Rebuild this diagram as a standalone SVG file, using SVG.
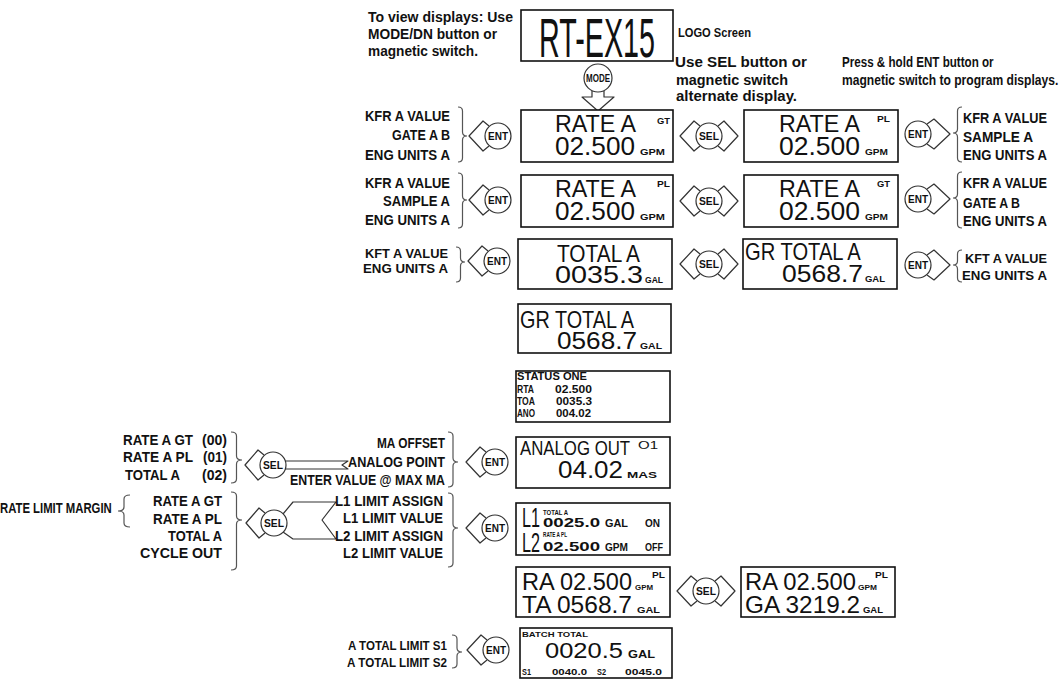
<svg xmlns="http://www.w3.org/2000/svg" width="1062" height="681" viewBox="0 0 1062 681">
<style>
.box{fill:#fff;stroke:#111;stroke-width:1.6}
.ln{fill:none;stroke:#333;stroke-width:1.2;stroke-linejoin:round}
.br{fill:none;stroke:#555;stroke-width:1.2}
.cir{fill:#fff;stroke:#333;stroke-width:1.2}
text{font-family:"Liberation Sans",Arial,sans-serif;fill:#111}
.lbl{font-weight:bold;font-size:14px}
.lb2{font-weight:bold;font-size:13px}
.big{font-size:24px}
.sm{font-weight:bold;font-size:9px}
.tiny{font-weight:bold;font-size:8px}
.btn{font-weight:bold;font-size:10px}
.st{font-weight:bold;font-size:10px}
</style>
<rect width="1062" height="681" fill="#fff"/>

<g id="notes">
<text class="lbl" x="368" y="22" textLength="145" lengthAdjust="spacingAndGlyphs">To view displays: Use</text>
<text class="lbl" x="368" y="39" textLength="129" lengthAdjust="spacingAndGlyphs">MODE/DN button or</text>
<text class="lbl" x="368" y="56" textLength="110" lengthAdjust="spacingAndGlyphs">magnetic switch.</text>
<text class="lb2" x="678" y="37" textLength="73" lengthAdjust="spacingAndGlyphs">LOGO Screen</text>
<text class="lbl" x="675" y="67" textLength="132" lengthAdjust="spacingAndGlyphs">Use SEL button or</text>
<text class="lbl" x="676" y="85" textLength="112" lengthAdjust="spacingAndGlyphs">magnetic switch</text>
<text class="lbl" x="676" y="101" textLength="121" lengthAdjust="spacingAndGlyphs">alternate display.</text>
<text class="lbl" transform="translate(842,67) scale(0.83,1)">Press &amp; hold ENT button or</text>
<text class="lbl" transform="translate(842,85) scale(0.864,1)">magnetic switch to program displays.</text>
</g>

<g id="logo">
<rect class="box" x="521" y="10" width="152" height="51"/>
<text font-size="56" transform="translate(539,57) scale(0.513,1)">RT-EX15</text>
</g>

<g id="connectors">
<path class="ln" d="M592,91 L592,97 L582,97 L598,111 L614,97 L604,97 L604,91"/>
<circle class="cir" cx="598" cy="78" r="14"/>
<text class="btn" x="586" y="82" textLength="24" lengthAdjust="spacingAndGlyphs">MODE</text>

<path class="ln" d="M700,126 L694,121 L680,136 L694,151 L700,146 M718,126 L724,121 L738,136 L724,151 L718,146"/>
<circle class="cir" cx="709" cy="136" r="13"/>
<text class="btn" x="699" y="140" textLength="20" lengthAdjust="spacingAndGlyphs">SEL</text>
<path class="ln" d="M700,191 L694,186 L680,201 L694,216 L700,211 M718,191 L724,186 L738,201 L724,216 L718,211"/>
<circle class="cir" cx="709" cy="201" r="13"/>
<text class="btn" x="699" y="205" textLength="20" lengthAdjust="spacingAndGlyphs">SEL</text>
<path class="ln" d="M700,254 L694,249 L680,264 L694,279 L700,274 M718,254 L724,249 L738,264 L724,279 L718,274"/>
<circle class="cir" cx="709" cy="264" r="13"/>
<text class="btn" x="699" y="268" textLength="20" lengthAdjust="spacingAndGlyphs">SEL</text>
<path class="ln" d="M697,581 L691,576 L677,591 L691,606 L697,601 M715,581 L721,576 L735,591 L721,606 L715,601"/>
<circle class="cir" cx="706" cy="591" r="13"/>
<text class="btn" x="696" y="595" textLength="20" lengthAdjust="spacingAndGlyphs">SEL</text>

<path class="ln" d="M489,126 L483,121 L469,136 L483,151 L489,146"/>
<circle class="cir" cx="498" cy="136" r="13"/>
<text class="btn" x="488" y="140" textLength="20" lengthAdjust="spacingAndGlyphs">ENT</text>
<path class="ln" d="M489,190 L483,185 L469,200 L483,215 L489,210"/>
<circle class="cir" cx="498" cy="200" r="13"/>
<text class="btn" x="488" y="204" textLength="20" lengthAdjust="spacingAndGlyphs">ENT</text>
<path class="ln" d="M488,251 L482,246 L468,261 L482,276 L488,271"/>
<circle class="cir" cx="497" cy="261" r="13"/>
<text class="btn" x="487" y="265" textLength="20" lengthAdjust="spacingAndGlyphs">ENT</text>
<path class="ln" d="M486,452 L480,447 L466,462 L480,477 L486,472"/>
<circle class="cir" cx="495" cy="462" r="13"/>
<text class="btn" x="485" y="466" textLength="20" lengthAdjust="spacingAndGlyphs">ENT</text>
<path class="ln" d="M486,518 L480,513 L466,528 L480,543 L486,538"/>
<circle class="cir" cx="495" cy="528" r="13"/>
<text class="btn" x="485" y="532" textLength="20" lengthAdjust="spacingAndGlyphs">ENT</text>
<path class="ln" d="M487,640 L481,635 L467,650 L481,665 L487,660"/>
<circle class="cir" cx="496" cy="650" r="13"/>
<text class="btn" x="486" y="654" textLength="20" lengthAdjust="spacingAndGlyphs">ENT</text>

<path class="ln" d="M927,124 L934,119 L950,134 L934,149 L927,144"/>
<circle class="cir" cx="918" cy="134" r="13"/>
<text class="btn" x="908" y="138" textLength="20" lengthAdjust="spacingAndGlyphs">ENT</text>
<path class="ln" d="M927,189 L934,184 L950,199 L934,214 L927,209"/>
<circle class="cir" cx="918" cy="199" r="13"/>
<text class="btn" x="908" y="203" textLength="20" lengthAdjust="spacingAndGlyphs">ENT</text>
<path class="ln" d="M927,255 L934,250 L950,265 L934,280 L927,275"/>
<circle class="cir" cx="918" cy="265" r="13"/>
<text class="btn" x="908" y="269" textLength="20" lengthAdjust="spacingAndGlyphs">ENT</text>

<path class="ln" d="M264,455 L258,450 L245,465 L258,480 L264,475 M285,461 L348,461 L342,465 L348,469 L285,469"/>
<circle class="cir" cx="273" cy="465" r="13"/>
<text class="btn" x="263" y="469" textLength="20" lengthAdjust="spacingAndGlyphs">SEL</text>
<path class="ln" d="M265,513 L259,508 L246,523 L259,538 L265,533 M283,514 L293,502 L336,502 L322,520 L336,539 L293,539 L283,532"/>
<circle class="cir" cx="274" cy="523" r="13"/>
<text class="btn" x="264" y="527" textLength="20" lengthAdjust="spacingAndGlyphs">SEL</text>

<path class="br" d="M458,107 Q462.5,107 462.5,111 L462.5,132 Q462.5,136 467,136 Q462.5,136 462.5,140 L462.5,158 Q462.5,162 458,162"/>
<path class="br" d="M458,173 Q462.5,173 462.5,177 L462.5,196 Q462.5,200 467,200 Q462.5,200 462.5,204 L462.5,224 Q462.5,228 458,228"/>
<path class="br" d="M456,247 Q460.5,247 460.5,251 L460.5,258 Q460.5,262 465,262 Q460.5,262 460.5,266 L460.5,278 Q460.5,282 456,282"/>
<path class="br" d="M962,107 Q957.5,107 957.5,111 L957.5,129 Q957.5,133 953,133 Q957.5,133 957.5,137 L957.5,158 Q957.5,162 962,162"/>
<path class="br" d="M962,172 Q957.5,172 957.5,176 L957.5,194 Q957.5,198 953,198 Q957.5,198 957.5,202 L957.5,224 Q957.5,228 962,228"/>
<path class="br" d="M962,250 Q957.5,250 957.5,254 L957.5,261 Q957.5,265 953,265 Q957.5,265 957.5,269 L957.5,278 Q957.5,282 962,282"/>
<path class="br" d="M448,432 Q453,432 453,436 L453,458 Q453,462 458,462 Q453,462 453,466 L453,483 Q453,487 448,487"/>
<path class="br" d="M448,493 Q453,493 453,497 L453,524 Q453,528 458,528 Q453,528 453,532 L453,563 Q453,567 448,567"/>
<path class="br" d="M452,635 Q457,635 457,639 L457,648 Q457,652 462,652 Q457,652 457,656 L457,664 Q457,668 452,668"/>
<path class="br" d="M231,432 Q236.5,432 236.5,436 L236.5,456 Q236.5,460 242,460 Q236.5,460 236.5,464 L236.5,479 Q236.5,483 231,483"/>
<path class="br" d="M231,492 Q236.5,492 236.5,496 L236.5,516 Q236.5,520 242,520 Q236.5,520 236.5,524 L236.5,566 Q236.5,570 231,570"/>
<path class="br" d="M130,495 Q124,495 124,499 L124,507 Q124,511 118,511 Q124,511 124,515 L124,523 Q124,527 130,527"/>
</g>

<g id="labels-left">
<text class="lbl" x="450" y="121" text-anchor="end" textLength="85" lengthAdjust="spacingAndGlyphs">KFR A VALUE</text>
<text class="lbl" x="450" y="140" text-anchor="end" textLength="58" lengthAdjust="spacingAndGlyphs">GATE A B</text>
<text class="lbl" x="450" y="160" text-anchor="end" textLength="85" lengthAdjust="spacingAndGlyphs">ENG UNITS A</text>
<text class="lbl" x="450" y="188" text-anchor="end" textLength="85" lengthAdjust="spacingAndGlyphs">KFR A VALUE</text>
<text class="lbl" x="450" y="206" text-anchor="end" textLength="67" lengthAdjust="spacingAndGlyphs">SAMPLE A</text>
<text class="lbl" x="450" y="225" text-anchor="end" textLength="85" lengthAdjust="spacingAndGlyphs">ENG UNITS A</text>
<text class="lb2" x="448" y="258" text-anchor="end" textLength="83" lengthAdjust="spacingAndGlyphs">KFT A VALUE</text>
<text class="lb2" x="448" y="273" text-anchor="end" textLength="85" lengthAdjust="spacingAndGlyphs">ENG UNITS A</text>
</g>

<g id="labels-right">
<text class="lbl" x="963" y="123" textLength="84" lengthAdjust="spacingAndGlyphs">KFR A VALUE</text>
<text class="lbl" x="963" y="142" textLength="70" lengthAdjust="spacingAndGlyphs">SAMPLE A</text>
<text class="lbl" x="963" y="160" textLength="84" lengthAdjust="spacingAndGlyphs">ENG UNITS A</text>
<text class="lbl" x="963" y="188" textLength="84" lengthAdjust="spacingAndGlyphs">KFR A VALUE</text>
<text class="lbl" x="963" y="208" textLength="57" lengthAdjust="spacingAndGlyphs">GATE A B</text>
<text class="lbl" x="963" y="226" textLength="84" lengthAdjust="spacingAndGlyphs">ENG UNITS A</text>
<text class="lb2" x="965" y="263" textLength="82" lengthAdjust="spacingAndGlyphs">KFT A VALUE</text>
<text class="lb2" x="962" y="280" textLength="85" lengthAdjust="spacingAndGlyphs">ENG UNITS A</text>
</g>

<g id="labels-analog">
<text class="lbl" x="445" y="448" text-anchor="end" textLength="68" lengthAdjust="spacingAndGlyphs">MA OFFSET</text>
<text class="lbl" x="445" y="467" text-anchor="end" textLength="97" lengthAdjust="spacingAndGlyphs">ANALOG POINT</text>
<text class="lbl" x="445" y="485" text-anchor="end" textLength="155" lengthAdjust="spacingAndGlyphs">ENTER VALUE @ MAX MA</text>
<text class="lbl" x="123" y="445" textLength="70" lengthAdjust="spacingAndGlyphs">RATE A GT</text>
<text class="lbl" x="202" y="445" textLength="25" lengthAdjust="spacingAndGlyphs">(00)</text>
<text class="lbl" x="123" y="462" textLength="70" lengthAdjust="spacingAndGlyphs">RATE A PL</text>
<text class="lbl" x="203" y="462" textLength="24" lengthAdjust="spacingAndGlyphs">(01)</text>
<text class="lbl" x="125" y="480" textLength="55" lengthAdjust="spacingAndGlyphs">TOTAL A</text>
<text class="lbl" x="202" y="480" textLength="25" lengthAdjust="spacingAndGlyphs">(02)</text>
</g>

<g id="labels-limit">
<text class="lbl" x="443" y="506" text-anchor="end" textLength="108" lengthAdjust="spacingAndGlyphs">L1 LIMIT ASSIGN</text>
<text class="lbl" x="443" y="523" text-anchor="end" textLength="100" lengthAdjust="spacingAndGlyphs">L1 LIMIT VALUE</text>
<text class="lbl" x="443" y="541" text-anchor="end" textLength="108" lengthAdjust="spacingAndGlyphs">L2 LIMIT ASSIGN</text>
<text class="lbl" x="443" y="558" text-anchor="end" textLength="100" lengthAdjust="spacingAndGlyphs">L2 LIMIT VALUE</text>
<text class="lbl" transform="translate(0,513) scale(0.81,1)">RATE LIMIT MARGIN</text>
<text class="lbl" x="222" y="506" text-anchor="end" textLength="69" lengthAdjust="spacingAndGlyphs">RATE A GT</text>
<text class="lbl" x="222" y="524" text-anchor="end" textLength="69" lengthAdjust="spacingAndGlyphs">RATE A PL</text>
<text class="lbl" x="222" y="541" text-anchor="end" textLength="54" lengthAdjust="spacingAndGlyphs">TOTAL A</text>
<text class="lbl" x="222" y="558" text-anchor="end" textLength="82" lengthAdjust="spacingAndGlyphs">CYCLE OUT</text>
</g>

<g id="labels-batch">
<text class="lb2" x="447" y="650" text-anchor="end" textLength="99" lengthAdjust="spacingAndGlyphs">A TOTAL LIMIT S1</text>
<text class="lb2" x="447" y="667" text-anchor="end" textLength="100" lengthAdjust="spacingAndGlyphs">A TOTAL LIMIT S2</text>
</g>

<g id="rate-gt">
<rect class="box" x="521" y="110" width="152" height="52"/>
<text class="big" x="555" y="132" textLength="81" lengthAdjust="spacingAndGlyphs">RATE A</text>
<text x="555" y="155" font-size="25" textLength="80" lengthAdjust="spacingAndGlyphs">02.500</text>
<text class="sm" x="640" y="155" textLength="25" lengthAdjust="spacingAndGlyphs">GPM</text>
<text class="sm" x="657" y="124" textLength="13" lengthAdjust="spacingAndGlyphs">GT</text>
</g>

<g id="rate-pl-alt">
<rect class="box" x="744" y="110" width="154" height="52"/>
<text class="big" x="779" y="132" textLength="81" lengthAdjust="spacingAndGlyphs">RATE A</text>
<text x="779" y="155" font-size="25" textLength="81" lengthAdjust="spacingAndGlyphs">02.500</text>
<text class="sm" x="865" y="155" textLength="23" lengthAdjust="spacingAndGlyphs">GPM</text>
<text class="sm" x="877" y="122" textLength="13" lengthAdjust="spacingAndGlyphs">PL</text>
</g>

<g id="rate-pl">
<rect class="box" x="521" y="175" width="152" height="52"/>
<text class="big" x="555" y="197" textLength="81" lengthAdjust="spacingAndGlyphs">RATE A</text>
<text x="555" y="220" font-size="25" textLength="80" lengthAdjust="spacingAndGlyphs">02.500</text>
<text class="sm" x="640" y="220" textLength="25" lengthAdjust="spacingAndGlyphs">GPM</text>
<text class="sm" x="657" y="187" textLength="13" lengthAdjust="spacingAndGlyphs">PL</text>
</g>

<g id="rate-gt-alt">
<rect class="box" x="744" y="175" width="154" height="52"/>
<text class="big" x="779" y="197" textLength="81" lengthAdjust="spacingAndGlyphs">RATE A</text>
<text x="779" y="220" font-size="25" textLength="81" lengthAdjust="spacingAndGlyphs">02.500</text>
<text class="sm" x="865" y="220" textLength="23" lengthAdjust="spacingAndGlyphs">GPM</text>
<text class="sm" x="877" y="187" textLength="13" lengthAdjust="spacingAndGlyphs">GT</text>
</g>

<g id="total-a">
<rect class="box" x="518" y="239" width="154" height="50"/>
<text class="big" x="557" y="262" textLength="83" lengthAdjust="spacingAndGlyphs">TOTAL A</text>
<text x="555" y="283" font-size="23" textLength="88" lengthAdjust="spacingAndGlyphs">0035.3</text>
<text class="sm" x="645" y="283" textLength="18" lengthAdjust="spacingAndGlyphs">GAL</text>
</g>

<g id="gr-total-alt">
<rect class="box" x="743" y="239" width="154" height="50"/>
<text class="big" transform="translate(745,260) scale(0.84,1)">GR TOTAL A</text>
<text x="782" y="282" font-size="24" textLength="81" lengthAdjust="spacingAndGlyphs">0568.7</text>
<text class="sm" x="865" y="282" textLength="20" lengthAdjust="spacingAndGlyphs">GAL</text>
</g>

<g id="gr-total">
<rect class="box" x="518" y="304" width="153" height="49"/>
<text class="big" transform="translate(520,328) scale(0.827,1)">GR TOTAL A</text>
<text x="557" y="349" font-size="24" textLength="80" lengthAdjust="spacingAndGlyphs">0568.7</text>
<text class="sm" x="640" y="349" textLength="22" lengthAdjust="spacingAndGlyphs">GAL</text>
</g>

<g id="status-one">
<rect class="box" x="516" y="371" width="154" height="51"/>
<text class="st" x="517" y="380" textLength="70" lengthAdjust="spacingAndGlyphs">STATUS ONE</text>
<text class="st" x="517" y="393" textLength="17" lengthAdjust="spacingAndGlyphs">RTA</text>
<text class="st" x="555" y="393" textLength="37" lengthAdjust="spacingAndGlyphs">02.500</text>
<text class="st" x="517" y="405" textLength="18" lengthAdjust="spacingAndGlyphs">TOA</text>
<text class="st" x="556" y="405" textLength="36" lengthAdjust="spacingAndGlyphs">0035.3</text>
<text class="st" x="517" y="417" textLength="18" lengthAdjust="spacingAndGlyphs">ANO</text>
<text class="st" x="556" y="417" textLength="35" lengthAdjust="spacingAndGlyphs">004.02</text>
</g>

<g id="analog-out">
<rect class="box" x="516" y="437" width="154" height="51"/>
<text font-size="21" transform="translate(520,455) scale(0.80,1)">ANALOG OUT</text>
<text x="638" y="449" font-size="10" textLength="20" lengthAdjust="spacingAndGlyphs">O1</text>
<text x="558" y="478" font-size="23" textLength="65" lengthAdjust="spacingAndGlyphs">04.02</text>
<text class="sm" x="627" y="478" textLength="30" lengthAdjust="spacingAndGlyphs">MAS</text>
</g>

<g id="limits">
<rect class="box" x="516" y="503" width="154" height="52"/>
<text font-size="27" transform="translate(522,527) scale(0.6,1)">L1</text>
<text font-size="27" transform="translate(522,552) scale(0.6,1)">L2</text>
<text class="tiny" x="543" y="515" textLength="25" lengthAdjust="spacingAndGlyphs">TOTAL A</text>
<text x="543" y="527" font-size="12" font-weight="bold" textLength="57" lengthAdjust="spacingAndGlyphs">0025.0</text>
<text class="st" x="605" y="527" textLength="23" lengthAdjust="spacingAndGlyphs">GAL</text>
<text class="st" x="645" y="527" textLength="15" lengthAdjust="spacingAndGlyphs">ON</text>
<text class="tiny" x="543" y="537" font-size="7" textLength="24" lengthAdjust="spacingAndGlyphs">RATE A PL</text>
<text x="543" y="551" font-size="12" font-weight="bold" textLength="57" lengthAdjust="spacingAndGlyphs">02.500</text>
<text class="st" x="605" y="551" textLength="23" lengthAdjust="spacingAndGlyphs">GPM</text>
<text class="st" x="645" y="551" textLength="18" lengthAdjust="spacingAndGlyphs">OFF</text>
</g>

<g id="ra-ta">
<rect class="box" x="516" y="567" width="154" height="50"/>
<text x="522" y="590" font-size="24" textLength="110" lengthAdjust="spacingAndGlyphs">RA 02.500</text>
<text class="tiny" x="635" y="590" textLength="18" lengthAdjust="spacingAndGlyphs">GPM</text>
<text class="sm" x="652" y="578" textLength="13" lengthAdjust="spacingAndGlyphs">PL</text>
<text x="522" y="613" font-size="24" textLength="110" lengthAdjust="spacingAndGlyphs">TA 0568.7</text>
<text class="sm" x="637" y="613" textLength="23" lengthAdjust="spacingAndGlyphs">GAL</text>
</g>

<g id="ra-ga">
<rect class="box" x="741" y="567" width="154" height="50"/>
<text x="745" y="590" font-size="24" textLength="111" lengthAdjust="spacingAndGlyphs">RA 02.500</text>
<text class="tiny" x="858" y="590" textLength="19" lengthAdjust="spacingAndGlyphs">GPM</text>
<text class="sm" x="875" y="578" textLength="13" lengthAdjust="spacingAndGlyphs">PL</text>
<text x="745" y="613" font-size="24" textLength="115" lengthAdjust="spacingAndGlyphs">GA 3219.2</text>
<text class="sm" x="863" y="613" textLength="20" lengthAdjust="spacingAndGlyphs">GAL</text>
</g>

<g id="batch-total">
<rect class="box" x="520" y="628" width="152" height="50"/>
<text class="tiny" x="522" y="637" textLength="66" lengthAdjust="spacingAndGlyphs">BATCH TOTAL</text>
<text x="545" y="658" font-size="22" textLength="78" lengthAdjust="spacingAndGlyphs">0020.5</text>
<text class="st" x="628" y="658" textLength="27" lengthAdjust="spacingAndGlyphs">GAL</text>
<text class="sm" x="522" y="675" textLength="9" lengthAdjust="spacingAndGlyphs">S1</text>
<text class="sm" x="552" y="675" textLength="35" lengthAdjust="spacingAndGlyphs">0040.0</text>
<text class="sm" x="597" y="675" textLength="9" lengthAdjust="spacingAndGlyphs">S2</text>
<text class="sm" x="625" y="675" textLength="37" lengthAdjust="spacingAndGlyphs">0045.0</text>
</g>
</svg>
